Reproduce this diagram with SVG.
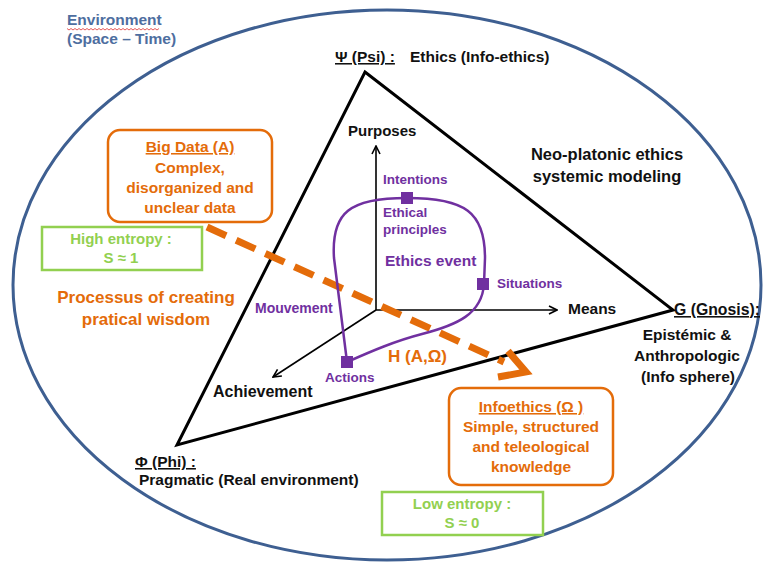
<svg xmlns="http://www.w3.org/2000/svg" width="763" height="562" viewBox="0 0 763 562">
  <defs>
    <style>
      text { font-family: "Liberation Sans", Arial, sans-serif; font-weight: bold; }
      .blk { fill: #111; font-size: 15.5px; }
      .env { fill: #4E6EA0; font-size: 15.5px; }
      .pur { fill: #7030A0; font-size: 13.5px; }
      .org { fill: #E46C0A; font-size: 15.5px; }
      .grn { fill: #92D050; font-size: 15px; }
      .ul { text-decoration: underline; }
      .mid { text-anchor: middle; }
      .tri { fill: none; stroke: #000; stroke-width: 3; stroke-linejoin: miter; }
      .axis { fill: none; stroke: #000; stroke-width: 1.6; marker-end: url(#open); }
      .obox { fill: #fff; stroke: #E46C0A; stroke-width: 2.5; }
      .gbox { fill: #fff; stroke: #92D050; stroke-width: 2.5; }
      .loop { fill: none; stroke: #7030A0; stroke-width: 2.5; stroke-linejoin: round; }
      .sq { fill: #7030A0; }
    </style>
    <marker id="open" viewBox="0 0 10 10" refX="9" refY="5" markerWidth="10" markerHeight="10" markerUnits="userSpaceOnUse" orient="auto">
      <path d="M1,1 L9,5 L1,9" fill="none" stroke="#000" stroke-width="1.6"/>
    </marker>
  </defs>

  <rect width="763" height="562" fill="#fff"/>

  <!-- environment boundary -->
  <g id="environment">
    <ellipse cx="387" cy="285" rx="374" ry="275" fill="none" stroke="#3E5F91" stroke-width="3"/>
    <text class="env" x="67" y="25">Environment</text>
    <path d="M67,28.5 l2,1.5 l2,-1.5 l2,1.5 l2,-1.5 l2,1.5 l2,-1.5 l2,1.5 l2,-1.5 l2,1.5 l2,-1.5 l2,1.5 l2,-1.5 l2,1.5 l2,-1.5 l2,1.5 l2,-1.5 l2,1.5 l2,-1.5 l2,1.5 l2,-1.5 l2,1.5 l2,-1.5 l2,1.5 l2,-1.5 l2,1.5 l2,-1.5 l2,1.5 l2,-1.5 l2,1.5 l2,-1.5 l2,1.5 l2,-1.5 l2,1.5 l2,-1.5 l2,1.5 l2,-1.5 l2,1.5 l2,-1.5 l2,1.5 l2,-1.5 l2,1.5 l2,-1.5 l2,1.5 l2,-1.5 l2,1.5 l2,-1.5" fill="none" stroke="#E03030" stroke-width="0.8"/>
    <text class="env" x="67" y="44">(Space – Time)</text>
  </g>

  <!-- triangle Psi / Gnosis / Phi -->
  <g id="triangle">
    <polygon class="tri" points="365,72 673,310 177,445"/>
  </g>

  <g id="connectors">
    <!-- axes from the origin -->
    <line class="axis" x1="376" y1="310" x2="376" y2="146"/>
    <line class="axis" x1="376" y1="310" x2="557" y2="310"/>
    <line class="axis" x1="376" y1="310" x2="273" y2="377"/>
    <!-- process arrow, Big Data to Infoethics -->
    <line x1="207" y1="227" x2="504" y2="362" stroke="#E46C0A" stroke-width="7" stroke-dasharray="21 11"/>
    <polyline points="508,351 526,372 498,377" fill="none" stroke="#E46C0A" stroke-width="7" stroke-linejoin="miter"/>
  </g>

  <!-- vertices -->
  <g id="psi">
    <text class="blk" x="335" y="62"><tspan class="ul">Ψ (Psi) :</tspan><tspan x="410">Ethics (Info-ethics)</tspan></text>
  </g>
  <g id="gnosis">
    <text class="blk ul" x="674" y="315" style="font-size:15.8px">G (Gnosis):</text>
    <text class="blk mid" x="687" y="340">Epistémic &amp;</text>
    <text class="blk mid" x="687" y="361">Anthropologic</text>
    <text class="blk mid" x="688" y="382">(Info sphere)</text>
  </g>
  <g id="phi">
    <text class="blk ul" x="135" y="467">Φ (Phi) :</text>
    <text class="blk" x="139" y="485">Pragmatic (Real environment)</text>
  </g>
  <g id="neoplatonic">
    <text class="blk mid" x="607" y="160" style="font-size:16.5px">Neo-platonic ethics</text>
    <text class="blk mid" x="607" y="182" style="font-size:16.5px">systemic modeling</text>
  </g>

  <!-- axis labels -->
  <g id="purposes"><text class="blk" x="348" y="136" style="font-size:15px">Purposes</text></g>
  <g id="means"><text class="blk" x="568" y="314">Means</text></g>
  <g id="achievement"><text class="blk" x="213" y="397" style="font-size:16px">Achievement</text></g>

  <!-- ethics event loop -->
  <g id="ethics-event">
    <path class="loop" d="M347,362 L334,258 C331,212 350,198 407,198 C465,198 485,212 485,258 L484,284 C482,314 457,325 422,334 C395,341 372,351 347,362 Z"/>
    <rect class="sq" x="401" y="192" width="12" height="12"/>
    <rect class="sq" x="477" y="278" width="12" height="12"/>
    <rect class="sq" x="341" y="356" width="12" height="12"/>
    <text class="pur" x="383" y="184">Intentions</text>
    <text class="pur" x="383" y="217">Ethical</text>
    <text class="pur" x="383" y="234">principles</text>
    <text class="pur" x="385" y="266" style="font-size:15.5px">Ethics event</text>
    <text class="pur" x="497" y="288">Situations</text>
    <text class="pur" x="325" y="382">Actions</text>
    <text class="pur" x="255" y="313" style="font-size:14px">Mouvement</text>
    <text class="org" x="388" y="362" style="font-size:17px">H (A,Ω)</text>
  </g>

  <!-- Big Data box -->
  <g id="big-data">
    <rect class="obox" x="108" y="130" width="164" height="92" rx="12"/>
    <text class="org mid ul" x="190" y="152">Big Data (A)</text>
    <text class="org mid" x="190" y="173">Complex,</text>
    <text class="org mid" x="190" y="193">disorganized and</text>
    <text class="org mid" x="190" y="213">unclear data</text>
  </g>

  <g id="high-entropy">
    <rect class="gbox" x="42" y="227" width="160" height="43"/>
    <text class="grn mid" x="121" y="244">High entropy :</text>
    <text class="grn mid" x="121" y="263">S ≈ 1</text>
  </g>

  <g id="process">
    <text class="org mid" x="146" y="303" style="font-size:17px">Processus of creating</text>
    <text class="org mid" x="146" y="325" style="font-size:17px">pratical wisdom</text>
  </g>

  <!-- Infoethics box -->
  <g id="infoethics">
    <rect class="obox" x="449" y="388" width="164" height="97" rx="12"/>
    <text class="org mid ul" x="531" y="412">Infoethics (Ω )</text>
    <text class="org mid" x="531" y="432">Simple, structured</text>
    <text class="org mid" x="531" y="452">and teleological</text>
    <text class="org mid" x="531" y="472">knowledge</text>
  </g>

  <g id="low-entropy">
    <rect class="gbox" x="382" y="492" width="161" height="43"/>
    <text class="grn mid" x="462" y="509">Low entropy :</text>
    <text class="grn mid" x="462" y="528">S ≈ 0</text>
  </g>
</svg>
